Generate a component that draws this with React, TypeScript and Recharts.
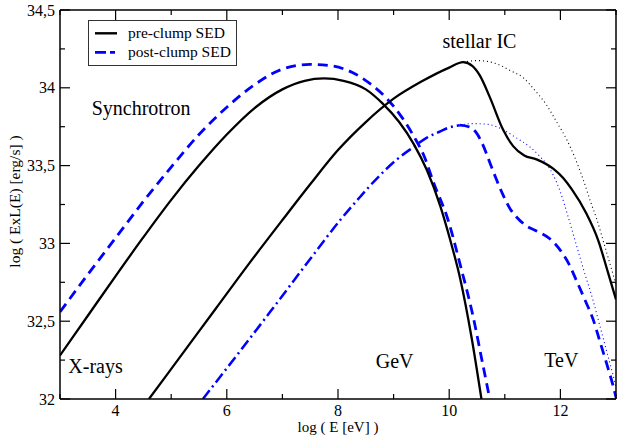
import React from 'react';
import { LineChart, Line, XAxis, YAxis, Legend, ReferenceDot } from 'recharts';

const FONT = '"Liberation Serif", "Times New Roman", Times, serif';

// ---- axis ticks ----
const xTicks = [3, 4, 5, 6, 7, 8, 9, 10, 11, 12, 13];
const xLabeledTicks = [4, 6, 8, 10, 12];
const yTicks = [32, 32.25, 32.5, 32.75, 33, 33.25, 33.5, 33.75, 34, 34.25, 34.5];
const yLabeledTicks = [32, 32.5, 33, 33.5, 34, 34.5];

// ---- series: [log E, log E*L(E)] ----
const syncPre = [
  [3.0, 32.28], [3.5, 32.535], [4.0, 32.79], [4.5, 33.04], [5.0, 33.28], [5.5, 33.5],
  [6.0, 33.7], [6.5, 33.87], [7.0, 33.99], [7.4, 34.045], [7.75, 34.06], [8.1, 34.045],
  [8.5, 33.99], [8.8, 33.9], [9.1, 33.78], [9.36, 33.64], [9.6, 33.47], [9.84, 33.24],
  [10.02, 33.02], [10.2, 32.77], [10.4, 32.4], [10.58, 32.0],
].map(([x, y]) => ({ x, y }));

const syncPost = [
  [3.0, 32.56], [3.5, 32.8], [4.0, 33.035], [4.5, 33.27], [5.0, 33.49], [5.5, 33.7],
  [6.0, 33.875], [6.5, 34.02], [7.0, 34.12], [7.5, 34.15], [7.9, 34.14], [8.25, 34.1],
  [8.6, 34.02], [8.88, 33.93], [9.15, 33.81], [9.36, 33.69], [9.55, 33.56], [9.72, 33.39],
  [9.98, 33.15], [10.2, 32.86], [10.43, 32.53], [10.6, 32.23], [10.73, 32.0],
].map(([x, y]) => ({ x, y }));

const icPre = [
  [4.6, 32.0], [5.2, 32.29], [5.8, 32.58], [6.4, 32.87], [7.0, 33.15], [7.5, 33.38],
  [8.0, 33.6], [8.5, 33.78], [9.0, 33.93], [9.5, 34.04], [10.0, 34.13], [10.25, 34.165],
  [10.42, 34.14], [10.55, 34.08], [10.73, 33.94], [10.97, 33.73], [11.15, 33.625],
  [11.35, 33.565], [11.57, 33.54], [11.87, 33.48], [12.05, 33.42], [12.2, 33.35],
  [12.47, 33.19], [12.68, 33.02], [12.85, 32.82], [13.0, 32.64],
].map(([x, y]) => ({ x, y }));

const icPreUnabsorbed = [
  [10.25, 34.165], [10.5, 34.175], [10.85, 34.155], [11.1, 34.11], [11.33, 34.065],
  [11.55, 33.98], [11.75, 33.89], [11.95, 33.77], [12.11, 33.67], [12.25, 33.56],
  [12.41, 33.41], [12.55, 33.26], [12.65, 33.16], [12.8, 32.98], [12.98, 32.76], [13.0, 32.735],
].map(([x, y]) => ({ x, y }));

const icPostRise = [
  [5.57, 32.0], [6.2, 32.29], [6.78, 32.56], [7.5, 32.9], [8.04, 33.15], [8.4, 33.3],
  [8.76, 33.44], [9.06, 33.54], [9.36, 33.62], [9.6, 33.68], [9.84, 33.72], [10.0, 33.745],
  [10.19, 33.76],
].map(([x, y]) => ({ x, y }));

const icPostFall = [
  [10.19, 33.76], [10.35, 33.75], [10.49, 33.71], [10.61, 33.63], [10.73, 33.52],
  [10.85, 33.41], [10.97, 33.31], [11.1, 33.22], [11.21, 33.17], [11.4, 33.11],
  [11.57, 33.08], [11.81, 33.03], [11.99, 32.96], [12.15, 32.87], [12.29, 32.76],
  [12.45, 32.63], [12.59, 32.51], [12.71, 32.37], [12.83, 32.23], [12.98, 32.04], [13.0, 32.01],
].map(([x, y]) => ({ x, y }));

const icPostUnabsorbed = [
  [10.19, 33.76], [10.43, 33.77], [10.7, 33.765], [10.97, 33.73], [11.2, 33.68],
  [11.45, 33.62], [11.63, 33.56], [11.75, 33.51], [11.87, 33.44], [11.99, 33.34],
  [12.14, 33.17], [12.23, 33.06], [12.41, 32.84], [12.59, 32.63], [12.71, 32.47],
  [12.83, 32.31], [12.95, 32.15], [13.0, 32.08],
].map(([x, y]) => ({ x, y }));

// ---- text ----
const legendLabels = ['pre-clump SED', 'post-clump SED'];
const annotations = [
  { text: 'Synchrotron', x: 3.57, y: 33.825 },
  { text: 'stellar IC', x: 9.88, y: 34.254 },
  { text: 'X-rays', x: 3.15, y: 32.169 },
  { text: 'GeV', x: 8.68, y: 32.201 },
  { text: 'TeV', x: 11.71, y: 32.208 },
];
const xTitle = 'log ( E [eV] )';
const yTitle = 'log ( ExL(E) [erg/s] )';

const BLUE = '#0000ff';
const fmtY = (v: number) => String(v).replace('.', ',');

function BottomTick(props: any) {
  const { x, y, payload } = props;
  const v = payload.value;
  const major = xLabeledTicks.includes(v);
  return (
    <g>
      <line x1={x} y1={y} x2={x} y2={y - (major ? 10 : 5)} stroke="#000" strokeWidth={1.2} />
      {major && (
        <text x={x} y={y + 16.5} textAnchor="middle" fontFamily={FONT} fontSize={16} fill="#000">
          {v}
        </text>
      )}
    </g>
  );
}

function TopTick(props: any) {
  const { x, y, payload } = props;
  const major = xLabeledTicks.includes(payload.value);
  return <line x1={x} y1={y} x2={x} y2={y + (major ? 10 : 5)} stroke="#000" strokeWidth={1.2} />;
}

function LeftTick(props: any) {
  const { x, y, payload } = props;
  const v = payload.value;
  const major = yLabeledTicks.includes(v);
  return (
    <g>
      <line x1={x} y1={y} x2={x + (major ? 10 : 5)} y2={y} stroke="#000" strokeWidth={1.2} />
      {major && (
        <text x={x - 5} y={y} dy="0.35em" textAnchor="end" fontFamily={FONT} fontSize={16} fill="#000">
          {fmtY(v)}
        </text>
      )}
    </g>
  );
}

function RightTick(props: any) {
  const { x, y, payload } = props;
  const major = yLabeledTicks.includes(payload.value);
  return <line x1={x} y1={y} x2={x - (major ? 10 : 5)} y2={y} stroke="#000" strokeWidth={1.2} />;
}

function XTitle(props: any) {
  const vb = props.viewBox || {};
  return (
    <text x={vb.x + vb.width / 2} y={vb.y + 33} textAnchor="middle" fontFamily={FONT} fontSize={15} fill="#000">
      {xTitle}
    </text>
  );
}

function YTitle(props: any) {
  const vb = props.viewBox || {};
  const cx = 15;
  const cy = vb.y + vb.height / 2 - 3;
  return (
    <text
      x={cx}
      y={cy}
      dy="0.35em"
      textAnchor="middle"
      transform={`rotate(-90, ${cx}, ${cy})`}
      fontFamily={FONT}
      fontSize={15.5}
      fill="#000"
    >
      {yTitle}
    </text>
  );
}

function LegendBox() {
  return (
    <svg width={149} height={46} style={{ display: 'block' }}>
      <rect x={0.5} y={0.5} width={148} height={45} fill="#fff" stroke="#333" strokeWidth={1} />
      <line x1={7} y1={13.3} x2={29} y2={13.3} stroke="#000" strokeWidth={2.4} />
      <line x1={7} y1={32.3} x2={29} y2={32.3} stroke={BLUE} strokeWidth={2.8} strokeDasharray="11 4 5 10" />
      <text x={40} y={18.3} fontFamily={FONT} fontSize={15.5} fill="#000">{legendLabels[0]}</text>
      <text x={40} y={37.3} fontFamily={FONT} fontSize={15.5} fill="#000">{legendLabels[1]}</text>
    </svg>
  );
}

function Annotation(text: string) {
  return (props: any) => {
    const vb = props.viewBox || {};
    return (
      <text x={vb.x} y={vb.y} fontFamily={FONT} fontSize={20} fill="#000">
        {text}
      </text>
    );
  };
}

export default function App() {
  return (
    <div style={{ position: 'absolute', left: 0, top: 0, width: 617, height: 439, background: '#fff' }}>
      <LineChart width={617} height={439} margin={{ top: 9, right: 0, bottom: 0, left: 0 }}>
        <XAxis
          xAxisId="bottom"
          dataKey="x"
          type="number"
          domain={[3, 13]}
          allowDataOverflow
          ticks={xTicks}
          interval={0}
          height={40}
          tickSize={0}
          tickMargin={0}
          tickLine={false}
          tick={<BottomTick />}
          axisLine={{ stroke: '#000', strokeWidth: 1.5 }}
          label={<XTitle />}
        />
        <XAxis
          xAxisId="top"
          orientation="top"
          dataKey="x"
          type="number"
          domain={[3, 13]}
          allowDataOverflow
          ticks={xTicks}
          interval={0}
          height={1}
          tickSize={0}
          tickMargin={0}
          tickLine={false}
          tick={<TopTick />}
          axisLine={{ stroke: '#000', strokeWidth: 1.5 }}
        />
        <YAxis
          yAxisId="left"
          type="number"
          domain={[32, 34.5]}
          allowDataOverflow
          ticks={yTicks}
          interval={0}
          width={60}
          tickSize={0}
          tickMargin={0}
          tickLine={false}
          tick={<LeftTick />}
          axisLine={{ stroke: '#000', strokeWidth: 1.5 }}
          label={<YTitle />}
        />
        <YAxis
          yAxisId="right"
          orientation="right"
          type="number"
          domain={[32, 34.5]}
          allowDataOverflow
          ticks={yTicks}
          interval={0}
          width={1}
          tickSize={0}
          tickMargin={0}
          tickLine={false}
          tick={<RightTick />}
          axisLine={{ stroke: '#000', strokeWidth: 1.5 }}
        />
        <Legend
          layout="horizontal"
          verticalAlign="middle"
          align="center"
          content={<LegendBox />}
          wrapperStyle={{ left: 88, top: 20, width: 149, height: 46 }}
        />

        <Line xAxisId="bottom" yAxisId="left" data={icPreUnabsorbed} dataKey="y" type="monotone" stroke="#000" strokeWidth={1.1} strokeDasharray="1 3" dot={false} activeDot={false} isAnimationActive={false} legendType="none" />
        <Line xAxisId="bottom" yAxisId="left" data={icPostUnabsorbed} dataKey="y" type="monotone" stroke={BLUE} strokeWidth={1.1} strokeDasharray="1 3" dot={false} activeDot={false} isAnimationActive={false} legendType="none" />
        <Line xAxisId="bottom" yAxisId="left" data={syncPost} dataKey="y" type="monotone" stroke={BLUE} strokeWidth={2.8} strokeDasharray="10 6" dot={false} activeDot={false} isAnimationActive={false} />
        <Line xAxisId="bottom" yAxisId="left" data={icPostRise} dataKey="y" type="monotone" stroke={BLUE} strokeWidth={2.5} strokeDasharray="11 4 2 4" dot={false} activeDot={false} isAnimationActive={false} />
        <Line xAxisId="bottom" yAxisId="left" data={icPostFall} dataKey="y" type="monotone" stroke={BLUE} strokeWidth={2.8} strokeDasharray="10 6" dot={false} activeDot={false} isAnimationActive={false} />
        <Line xAxisId="bottom" yAxisId="left" data={syncPre} dataKey="y" type="monotone" stroke="#000" strokeWidth={2.3} dot={false} activeDot={false} isAnimationActive={false} />
        <Line xAxisId="bottom" yAxisId="left" data={icPre} dataKey="y" type="monotone" stroke="#000" strokeWidth={2.3} dot={false} activeDot={false} isAnimationActive={false} />

        {annotations.map((a) => (
          <ReferenceDot
            key={a.text}
            xAxisId="bottom"
            yAxisId="left"
            x={a.x}
            y={a.y}
            r={0}
            fill="none"
            stroke="none"
            label={{ content: Annotation(a.text) } as any}
          />
        ))}
      </LineChart>
    </div>
  );
}
